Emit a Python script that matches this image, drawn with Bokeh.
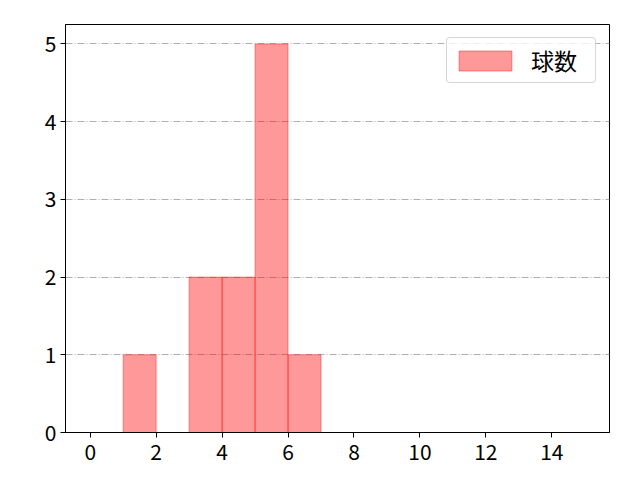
from bokeh.plotting import figure
from bokeh.models import SingleIntervalTicker, Range1d, Legend, LegendItem
from bokeh.embed import file_html
from bokeh.resources import INLINE

# histogram bins (left edges) and counts
bin_edges = list(range(16))
counts = [0, 1, 0, 2, 2, 5, 1, 0, 0, 0, 0, 0, 0, 0, 0]
series_name = "球数"

FONT = "Noto Sans CJK JP"

left = [bin_edges[i] for i in range(len(counts)) if counts[i] > 0]
right = [bin_edges[i + 1] for i in range(len(counts)) if counts[i] > 0]
top = [c for c in counts if c > 0]

p = figure(frame_width=544, frame_height=408, output_backend="svg", toolbar_location=None,
           x_range=Range1d(-0.75, 15.75), y_range=Range1d(0, 5.25),
           min_border_left=65, min_border_right=16, min_border_top=24, min_border_bottom=44)

bars = p.quad(left=left, right=right, bottom=0, top=top,
              fill_color="red", fill_alpha=0.4, line_color="red", line_alpha=0.4, line_width=1)

p.outline_line_color = "black"
p.outline_line_alpha = 1
p.outline_line_width = 1

p.xgrid.grid_line_color = None
p.ygrid.grid_line_color = "#b0b0b0"
p.ygrid.grid_line_width = 1
p.ygrid.grid_line_dash = "7 2 1 2"

p.xaxis.ticker = SingleIntervalTicker(interval=2)
p.yaxis.ticker = SingleIntervalTicker(interval=1)
for ax in (p.xaxis, p.yaxis):
    ax.axis_line_color = "black"
    ax.major_tick_line_color = "black"
    ax.major_tick_out = 5
    ax.major_tick_in = 0
    ax.minor_tick_line_color = None
    ax.major_label_text_font = FONT
    ax.major_label_text_font_size = "21px"
    ax.major_label_text_color = "black"
p.xaxis.major_label_standoff = 6
p.yaxis.major_label_standoff = 4

legend = Legend(items=[LegendItem(label=series_name, renderers=[bars])],
                location="top_right", margin=13, padding=5,
                glyph_width=66, glyph_height=25, label_standoff=13,
                label_width=59,
                label_text_font=FONT, label_text_font_size="23px",
                label_text_color="black",
                border_line_color="#cccccc", border_line_alpha=0.8,
                background_fill_alpha=0.8, border_radius=4)
p.add_layout(legend)

open("out.html", "w").write(file_html(p, INLINE))
